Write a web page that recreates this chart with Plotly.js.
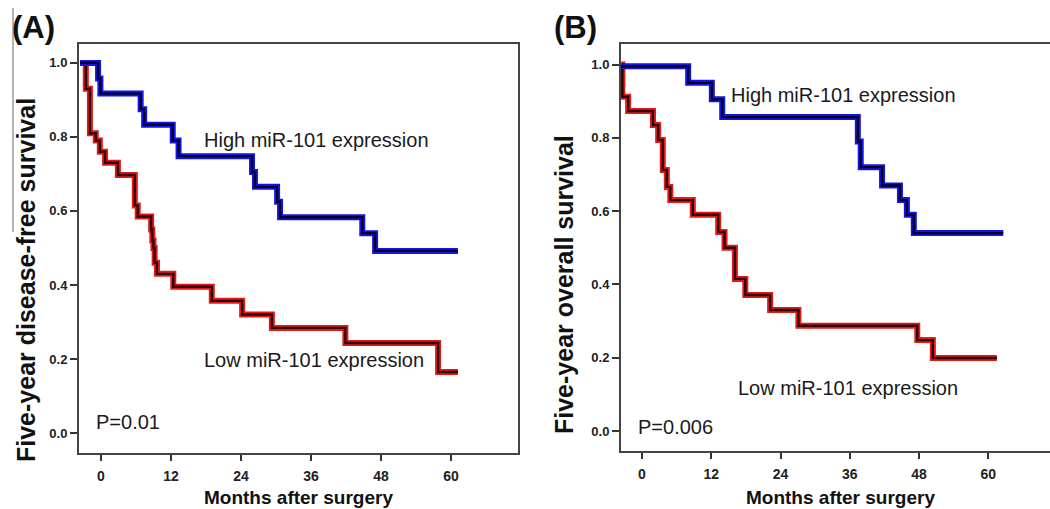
<!DOCTYPE html>
<html>
<head>
<meta charset="utf-8">
<script src="https://cdn.plot.ly/plotly-3.0.1.min.js"></script>
<style>html,body{margin:0;padding:0;background:#fff}#chart{width:1050px;height:509px}</style>
</head>
<body>
<div id="chart"></div>
<script>
// ---- Data ----
// Panel A: five-year disease-free survival
const dfsHighMonths = [-3.6, -0.5, -0.1, 6.8, 7.4, 12.3, 13.3, 25.9, 26.4, 30.2, 30.7, 44.8, 47.0, 61.2];
const dfsHighSurv   = [1.0, 0.958, 0.917, 0.875, 0.833, 0.79, 0.748, 0.705, 0.665, 0.625, 0.583, 0.54, 0.492, 0.492];
const dfsLowMonths  = [-3.6, -2.6, -1.9, -0.9, -0.2, 0.7, 2.9, 5.8, 6.3, 8.6, 8.8, 9.0, 9.2, 9.6, 12.4, 19.0, 24.2, 29.3, 41.9, 57.8, 61.2];
const dfsLowSurv    = [1.0, 0.93, 0.81, 0.79, 0.76, 0.73, 0.697, 0.615, 0.585, 0.55, 0.52, 0.50, 0.46, 0.43, 0.395, 0.357, 0.32, 0.284, 0.243, 0.165, 0.165];
// Panel B: five-year overall survival
const osHighMonths  = [-3.6, 8.0, 12.1, 13.9, 37.4, 37.9, 41.6, 44.7, 45.9, 47.1, 62.6];
const osHighSurv    = [0.995, 0.95, 0.905, 0.857, 0.79, 0.72, 0.67, 0.63, 0.59, 0.54, 0.54];
const osLowMonths   = [-3.6, -3.4, -2.4, 1.9, 2.8, 3.6, 4.3, 4.9, 8.8, 13.2, 14.3, 16.1, 17.9, 22.2, 27.1, 47.7, 50.4, 61.5];
const osLowSurv     = [1.0, 0.912, 0.873, 0.835, 0.794, 0.712, 0.666, 0.63, 0.59, 0.543, 0.50, 0.415, 0.371, 0.33, 0.287, 0.248, 0.199, 0.199];

const monthTicks = [0, 12, 24, 36, 48, 60];
const survTicks  = [0.0, 0.2, 0.4, 0.6, 0.8, 1.0];
const panelLabels = ['(A)', '(B)'];
const yTitles = ['Five-year disease-free survival', 'Five-year overall survival'];
const xTitle = 'Months after surgery';
const highLabel = 'High miR-101 expression';
const lowLabel  = 'Low miR-101 expression';
const pValues = ['P=0.01', 'P=0.006'];

// ---- Helpers ----
const W = 1050, H = 509;
const px = v => v / W;
const py = v => 1 - v / H;

function km(x, y, xa, ya, outer, inner) {
  const base = {x: x, y: y, xaxis: xa, yaxis: ya, mode: 'lines', hoverinfo: 'skip', showlegend: false};
  return [
    Object.assign({}, base, {line: {shape: 'hv', color: outer, width: 6}}),
    Object.assign({}, base, {line: {shape: 'hv', color: inner, width: 2.4}})
  ];
}
const BLUE_O = '#1414e6', BLUE_I = '#00002e';
const RED_O = '#e31a1a', RED_I = '#330000';

const data = [].concat(
  km(dfsLowMonths, dfsLowSurv, 'x', 'y', RED_O, RED_I),
  km(dfsHighMonths, dfsHighSurv, 'x', 'y', BLUE_O, BLUE_I),
  km(osLowMonths, osLowSurv, 'x2', 'y2', RED_O, RED_I),
  km(osHighMonths, osHighSurv, 'x2', 'y2', BLUE_O, BLUE_I)
);

const tickFontX = {family: 'Liberation Sans, Arial, sans-serif', size: 14, color: '#222', weight: 'bold'};
const tickFontY = {family: 'Liberation Sans, Arial, sans-serif', size: 13, color: '#222', weight: 'bold'};
const axCommon = {
  showgrid: false, zeroline: false, showline: true, linecolor: '#444', linewidth: 2,
  ticks: 'outside', tickcolor: '#333', tickwidth: 2, fixedrange: true
};

const layout = {
  width: W, height: H,
  margin: {l: 0, r: 0, t: 0, b: 0},
  paper_bgcolor: '#fff', plot_bgcolor: '#fff',
  xaxis: Object.assign({}, axCommon, {domain: [px(79), px(518)], range: [-3.77, 71.5], tickvals: monthTicks, ticklen: 6, tickfont: tickFontX, mirror: true, anchor: 'y', ticklabelstandoff: 3}),
  yaxis: Object.assign({}, axCommon, {domain: [py(453), py(44)], range: [-0.054, 1.051], tickvals: survTicks, tickformat: '.1f', ticklen: 7, tickfont: tickFontY, mirror: true, anchor: 'x'}),
  xaxis2: Object.assign({}, axCommon, {domain: [px(621), 1], range: [-3.64, 70.7], tickvals: monthTicks, ticklen: 6, tickfont: tickFontX, mirror: true, anchor: 'y2', ticklabelstandoff: 3}),
  yaxis2: Object.assign({}, axCommon, {domain: [py(451), py(44)], range: [-0.0546, 1.056], tickvals: survTicks, tickformat: '.1f', ticklen: 7, tickfont: tickFontY, mirror: false, anchor: 'x2'}),
  annotations: [],
  shapes: [
    {type: 'line', xref: 'paper', yref: 'paper', x0: px(13), x1: px(13), y0: py(8), y1: py(232), line: {color: '#666', width: 1}}
  ]
};

const txtFont = {family: 'Liberation Sans, Arial, sans-serif', size: 20, color: '#1a1a1a'};
const boldFont = s => ({family: 'Liberation Sans, Arial, sans-serif', size: s, color: '#111', weight: 'bold'});
function ann(text, x, y, font, xanchor, extra) {
  layout.annotations.push(Object.assign({text: text, xref: 'paper', yref: 'paper', x: px(x), y: py(y), showarrow: false, font: font, xanchor: xanchor || 'left', yanchor: 'middle'}, extra || {}));
}
ann(panelLabels[0], 10, 28, boldFont(31));
ann(panelLabels[1], 552, 28, boldFont(31));
ann(yTitles[0], 26, 280, boldFont(25), 'center', {textangle: -90});
ann(yTitles[1], 564, 285, boldFont(25), 'center', {textangle: -90});
ann(xTitle, 298, 497, boldFont(19), 'center');
ann(xTitle, 840, 497, boldFont(19), 'center');
ann(highLabel, 202, 140, txtFont);
ann(lowLabel, 202, 360, txtFont);
ann(highLabel, 729, 95, txtFont);
ann(lowLabel, 736, 388, txtFont);
ann(pValues[0], 94, 422, txtFont);
ann(pValues[1], 636, 427, txtFont);

Plotly.newPlot('chart', data, layout, {staticPlot: true, displayModeBar: false});
</script>
</body>
</html>
